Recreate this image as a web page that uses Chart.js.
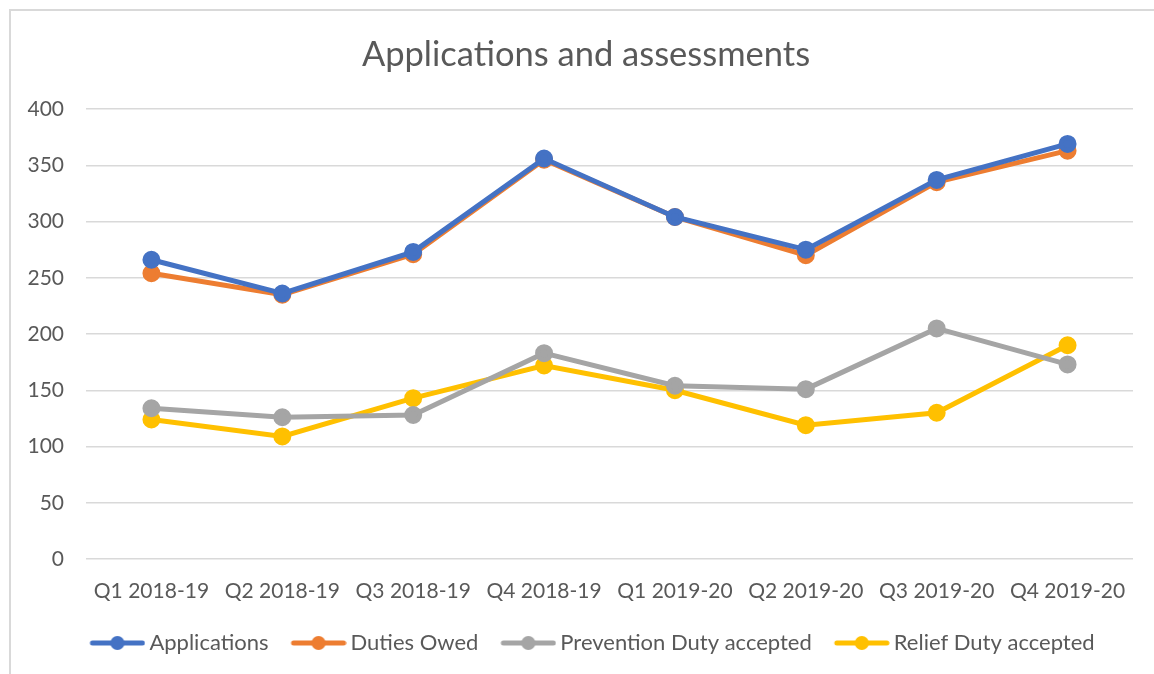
<!DOCTYPE html>
<html>
<head>
<meta charset="utf-8">
<script src="https://cdn.jsdelivr.net/npm/chart.js@4/dist/chart.umd.min.js"></script>
<style>
  html, body { margin: 0; padding: 0; background: #ffffff; }
  #wrap { position: relative; width: 1154px; height: 674px; overflow: hidden; }
  #frame { position: absolute; left: 9px; top: 9px; width: 1200px; height: 700px; border: 2px solid #d9d9d9; box-sizing: border-box; }
  canvas { position: absolute; left: 0; top: 0; }
</style>
</head>
<body>
<div id="wrap">
  <div id="frame"></div>
  <canvas id="c" width="1154" height="674"></canvas>
</div>
<script>
const categories = ['Q1 2018-19', 'Q2 2018-19', 'Q3 2018-19', 'Q4 2018-19', 'Q1 2019-20', 'Q2 2019-20', 'Q3 2019-20', 'Q4 2019-20'];
const applications = [266, 236, 273, 356, 304, 275, 337, 369];
const dutiesOwed = [254, 235, 271, 355, 304, 270, 335, 363];
const preventionDuty = [134, 126, 128, 183, 154, 151, 205, 173];
const reliefDuty = [124, 109, 143, 172, 150, 119, 130, 190];
const seriesNames = ['Applications', 'Duties Owed', 'Prevention Duty accepted', 'Relief Duty accepted'];
const seriesColors = ['#4472C4', '#ED7D31', '#A5A5A5', '#FFC000'];
const titleText = 'Applications and assessments';

const FONT = 'Lato, "Open Sans", sans-serif';
const TEXT = '#595959';

// legend marker: line with a dot, drawn in the right-hand 56px of a 75px canvas
function legendMarker(color) {
  const c = document.createElement('canvas');
  c.width = 75; c.height = 16;
  const g = c.getContext('2d');
  const x0 = 19;
  g.strokeStyle = color; g.lineWidth = 5; g.lineCap = 'round';
  g.beginPath(); g.moveTo(x0 + 3, 8); g.lineTo(x0 + 53, 8); g.stroke();
  g.fillStyle = color;
  g.beginPath(); g.arc(x0 + 28, 8, 7, 0, Math.PI * 2); g.fill();
  return c;
}

const allData = [applications, dutiesOwed, preventionDuty, reliefDuty];
const datasets = allData.map((d, i) => ({
  label: seriesNames[i],
  data: d,
  borderColor: seriesColors[i],
  backgroundColor: seriesColors[i],
  pointBackgroundColor: seriesColors[i],
  pointBorderColor: seriesColors[i],
  borderWidth: 5,
  pointRadius: 6.5,
  pointHoverRadius: 6.5,
  pointStyle: 'circle',
  tension: 0,
  order: i,
  yAxisID: 'y'
}));
const legendImgs = seriesColors.map(legendMarker);

new Chart(document.getElementById('c'), {
  type: 'line',
  data: { labels: categories, datasets: datasets },
  options: {
    responsive: false,
    animation: false,
    layout: { padding: { left: 18, right: 0, top: 0, bottom: 10 } },
    plugins: {
      title: {
        display: true,
        text: titleText,
        color: TEXT,
        font: { family: FONT, size: 34.5, weight: 'normal' },
        padding: { top: 34, bottom: 33.6 }
      },
      legend: {
        position: 'bottom',
        labels: {
          color: TEXT,
          font: { family: FONT, size: 22 },
          usePointStyle: true,
          pointStyleWidth: 61,
          boxHeight: 16,
          padding: 10,
          generateLabels: (chart) => chart.data.datasets.map((ds, i) => ({
            text: ds.label,
            fillStyle: ds.borderColor,
            strokeStyle: ds.borderColor,
            fontColor: TEXT,
            lineWidth: 0,
            pointStyle: legendImgs[i],
            hidden: false,
            datasetIndex: i
          }))
        }
      },
      tooltip: { enabled: false }
    },
    scales: {
      x: {
        offset: true,
        grid: { display: false, drawTicks: false },
        border: { display: false },
        ticks: { color: TEXT, font: { family: FONT, size: 21 }, padding: 20, maxRotation: 0 },
        afterFit: (s) => { s.height = 63; }
      },
      y: {
        min: 0, max: 400,
        grid: { color: '#d9d9d9', lineWidth: 1.5, drawTicks: false },
        border: { display: false },
        ticks: { stepSize: 50, color: TEXT, font: { family: FONT, size: 21 }, padding: 22 },
        afterFit: (s) => { s.width = 68; }
      },
      y2: {
        position: 'right',
        min: 0, max: 400,
        grid: { display: false, drawTicks: false },
        border: { display: false },
        ticks: { display: false },
        afterFit: (s) => { s.width = 21; }
      }
    }
  }
});
</script>
</body>
</html>
